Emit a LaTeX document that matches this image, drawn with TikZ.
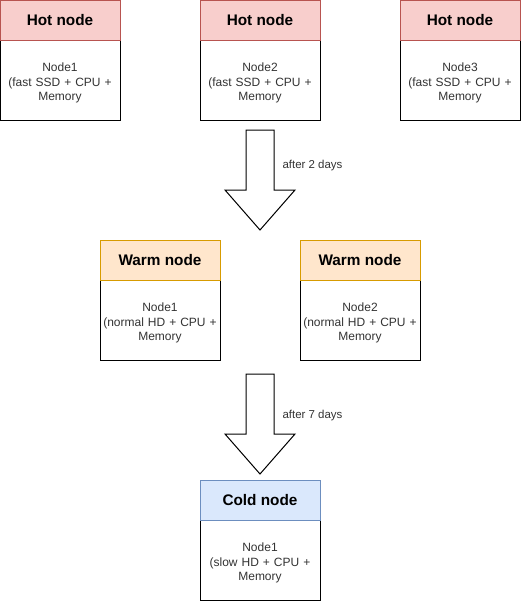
\documentclass[tikz,border=0pt]{standalone}
\usepackage{fontspec}
\setmainfont{Liberation Sans}
\definecolor{hotfill}{HTML}{F8CECC}
\definecolor{hotdraw}{HTML}{B85450}
\definecolor{warmfill}{HTML}{FFE6CC}
\definecolor{warmdraw}{HTML}{D79B00}
\definecolor{coldfill}{HTML}{DAE8FC}
\definecolor{colddraw}{HTML}{6C8EBF}
\definecolor{bodytext}{HTML}{333333}
\begin{document}
\begin{tikzpicture}[x=0.75pt,y=-0.75pt,line width=0.75pt,
  bodybox/.style={draw=black,fill=white,minimum width=90pt,minimum height=90pt,inner sep=0pt,
    text=bodytext,font=\fontsize{9pt}{10.9pt}\selectfont,align=center,text width=88pt},
  header/.style={minimum width=90pt,minimum height=30pt,inner sep=0pt,
    font=\fontsize{11.5pt}{13pt}\selectfont\bfseries,text=black},
  hothead/.style={header,draw=hotdraw,fill=hotfill},
  warmhead/.style={header,draw=warmdraw,fill=warmfill},
  coldhead/.style={header,draw=colddraw,fill=coldfill},
  bigarrow/.style={draw=black,fill=white,line join=miter},
  arrlabel/.style={font=\fontsize{8.6pt}{10pt}\selectfont,text=bodytext,anchor=west,inner sep=0pt}]
\useasboundingbox (0,0) rectangle (521,601);
% hot nodes
\node[bodybox] (h1b) at (60,60) {\\[30pt]Node1\\(fast SSD + CPU +\\Memory};
\node[hothead] (h1) at (60,20) {Hot node};
\node[bodybox] (h2b) at (260,60) {\\[30pt]Node2\\(fast SSD + CPU +\\Memory};
\node[hothead] (h2) at (260,20) {Hot node};
\node[bodybox] (h3b) at (460,60) {\\[30pt]Node3\\(fast SSD + CPU +\\Memory};
\node[hothead] (h3) at (460,20) {Hot node};
% arrow 1
\draw[bigarrow] (246,130) -- (274,130) -- (274,190) -- (295,190) -- (260,230) -- (225,190) -- (246,190) -- cycle;
\node[arrlabel] (l1) at (282,166) {after 2 days};
% warm nodes
\node[bodybox] (w1b) at (160,300) {\\[30pt]Node1\\(normal HD + CPU +\\Memory};
\node[warmhead] (w1) at (160,260) {Warm node};
\node[bodybox] (w2b) at (360,300) {\\[30pt]Node2\\(normal HD + CPU +\\Memory};
\node[warmhead] (w2) at (360,260) {Warm node};
% arrow 2
\draw[bigarrow] (246,374) -- (274,374) -- (274,434) -- (295,434) -- (260,474) -- (225,434) -- (246,434) -- cycle;
\node[arrlabel] (l2) at (282,416) {after 7 days};
% cold node
\node[bodybox] (c1b) at (260,540) {\\[30pt]Node1\\(slow HD + CPU +\\Memory};
\node[coldhead] (c1) at (260,500) {Cold node};
\end{tikzpicture}
\end{document}
